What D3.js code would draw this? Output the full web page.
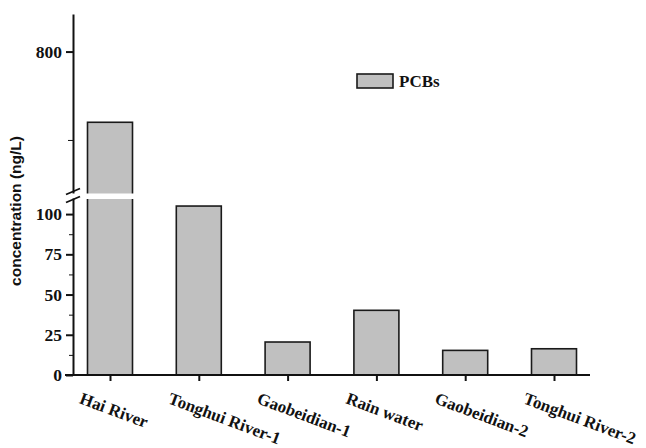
<!DOCTYPE html>
<html lang="en">
<head>
<meta charset="utf-8">
<script src="https://d3js.org/d3.v7.min.js"></script>
<style>
  body { margin: 0; background: #fff; }
  svg text { font-family: "Liberation Serif", "Times New Roman", serif; font-weight: bold; fill: #111; }
  .domain, .tick line { stroke: #111; }
</style>
</head>
<body>
<script>
// data
var sites = ["Hai River", "Tonghui River-1", "Gaobeidian-1", "Rain water", "Gaobeidian-2", "Tonghui River-2"];
var pcbs = [640, 105, 20.5, 40.2, 15.3, 16.3];
var lowTicks = [0, 25, 50, 75, 100];
var lowMinor = [12.5, 37.5, 62.5, 87.5];
var highTicks = [800];
var highMinor = [600];

var W = 646, H = 448;
var axisX = 73, baseY = 375;
var breakLow = 110, breakHigh = 480; // axis break between these values

var svg = d3.select("body").append("svg").attr("width", W).attr("height", H);

var x = d3.scalePoint().domain(sites).range([110, 554]);
var yLow = d3.scaleLinear().domain([0, breakLow]).range([baseY, 198]);
var yHigh = d3.scaleLinear().domain([breakHigh, 885]).range([193, 14]);
var barW = 45;

// bars (tall bar is split by the break)
function yTop(v) { return v > breakLow ? yHigh(v) : yLow(v); }

svg.selectAll("rect.bar").data(pcbs).enter().append("rect")
  .attr("class", "bar")
  .attr("x", function(d, i) { return x(sites[i]) - barW / 2; })
  .attr("y", function(d) { return yTop(d); })
  .attr("width", barW)
  .attr("height", function(d) { return baseY - yTop(d); })
  .attr("fill", "#c0c0c0")
  .attr("stroke", "#1a1a1a")
  .attr("stroke-width", 1.6);

// white gap for the break
svg.append("rect").attr("x", 60).attr("y", yHigh(breakHigh) + 0.5)
  .attr("width", 80).attr("height", yLow(breakLow) - yHigh(breakHigh) + 0.5)
  .attr("fill", "#fff");

// lower y axis
var gLow = svg.append("g").attr("transform", "translate(" + axisX + ",0)")
  .call(d3.axisLeft(yLow).tickValues(lowTicks).tickSize(7).tickPadding(4).tickSizeOuter(0));
svg.append("g").attr("transform", "translate(" + axisX + ",0)")
  .call(d3.axisLeft(yLow).tickValues(lowMinor).tickSize(4).tickFormat("").tickSizeOuter(0))
  .select(".domain").remove();

// upper y axis
var gHigh = svg.append("g").attr("transform", "translate(" + axisX + ",0)")
  .call(d3.axisLeft(yHigh).tickValues(highTicks).tickSize(7).tickPadding(4).tickSizeOuter(0));
svg.append("g").attr("transform", "translate(" + axisX + ",0)")
  .call(d3.axisLeft(yHigh).tickValues(highMinor).tickSize(5).tickFormat("").tickSizeOuter(0))
  .select(".domain").remove();

[gLow, gHigh].forEach(function(g) {
  g.select(".domain").attr("stroke-width", 2);
  g.selectAll(".tick line").attr("stroke-width", 2);
  g.selectAll(".tick text").style("font-size", "17.5px").style("font-family", "Liberation Serif, serif")
    .style("font-weight", "bold");
});

// break marks
var bm = (yHigh(breakHigh) + yLow(breakLow)) / 2;
[-4, 4].forEach(function(o) {
  svg.append("line")
    .attr("x1", axisX - 7).attr("y1", bm + o + 3)
    .attr("x2", axisX + 7).attr("y2", bm + o - 3)
    .attr("stroke", "#111").attr("stroke-width", 1.8);
});

// x axis
var gx = svg.append("g").attr("transform", "translate(0," + baseY + ")")
  .call(d3.axisBottom(x).tickSize(6).tickSizeOuter(0));
gx.select(".domain").attr("d", "M" + (axisX - 8) + ",0H590").attr("stroke-width", 2);
gx.selectAll(".tick line").attr("stroke-width", 2);
gx.selectAll(".tick text")
  .attr("x", 0).attr("y", 0).attr("dy", 0)
  .attr("text-anchor", "start")
  .attr("transform", "translate(-32,28) rotate(20.5)")
  .style("font-size", "17px").style("font-family", "Liberation Serif, serif").style("font-weight", "bold");

// y title
svg.append("text")
  .attr("transform", "translate(21,211) rotate(-90)")
  .attr("text-anchor", "middle")
  .style("font-family", "Liberation Sans, Arial, sans-serif")
  .style("font-size", "15.5px")
  .text("concentration (ng/L)");

// legend
var lg = svg.append("g").attr("transform", "translate(357,74)");
lg.append("rect").attr("width", 36).attr("height", 14)
  .attr("fill", "#c0c0c0").attr("stroke", "#1a1a1a").attr("stroke-width", 1.6);
lg.append("text").attr("x", 42).attr("y", 13).style("font-size", "17px").text("PCBs");
</script>
</body>
</html>
